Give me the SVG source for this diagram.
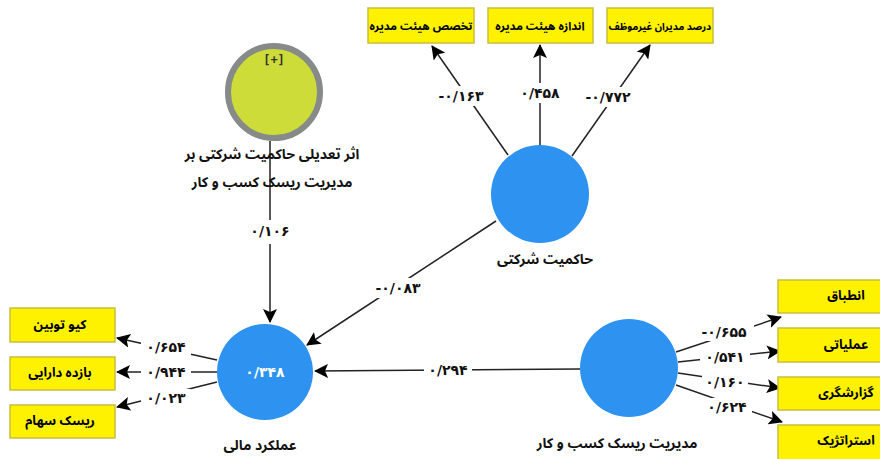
<svg xmlns="http://www.w3.org/2000/svg" width="880" height="459" viewBox="0 0 880 459">
<style>
.box{fill:#FFF200;stroke:#C9BE3A;stroke-width:1.5}
.bt{font-family:"Noto Sans Arabic","Noto Naskh Arabic","DejaVu Sans",sans-serif;font-weight:bold;font-size:13px;fill:#000;text-anchor:middle;dominant-baseline:central}
.tb{font-size:11.5px}
.nl{font-family:"Noto Sans Arabic","Noto Naskh Arabic","DejaVu Sans",sans-serif;font-weight:bold;font-size:14px;fill:#111;text-anchor:middle;dominant-baseline:central}
.num{font-family:"DejaVu Sans",sans-serif;font-weight:bold;font-size:14px;fill:#111;text-anchor:middle;dominant-baseline:central}
.lat{fill:#2E93F0}
.ln{stroke:#222;stroke-width:1.5;fill:none}
.bg{fill:#fff}
</style>
<defs>
<marker id="ah" markerUnits="userSpaceOnUse" markerWidth="14" markerHeight="14" viewBox="0 0 14 14" refX="13" refY="7" orient="auto">
<path d="M0,0 L14,7 L0,14 L3,7 Z" fill="#000"/>
</marker>
</defs>

<g id="connectors">
<line class="ln" x1="508" y1="155" x2="432" y2="46" marker-end="url(#ah)"/>
<line class="ln" x1="540" y1="145" x2="540" y2="45" marker-end="url(#ah)"/>
<line class="ln" x1="572" y1="156" x2="650" y2="45" marker-end="url(#ah)"/>
<line class="ln" x1="270" y1="141" x2="270" y2="322" marker-end="url(#ah)"/>
<line class="ln" x1="496" y1="221" x2="307" y2="345" marker-end="url(#ah)"/>
<line class="ln" x1="580" y1="369" x2="315" y2="371" marker-end="url(#ah)"/>
<line class="ln" x1="217" y1="360" x2="117" y2="338" marker-end="url(#ah)"/>
<line class="ln" x1="217" y1="372" x2="117" y2="372" marker-end="url(#ah)"/>
<line class="ln" x1="217" y1="382" x2="117" y2="407" marker-end="url(#ah)"/>
<line class="ln" x1="676" y1="352" x2="781" y2="317" marker-end="url(#ah)"/>
<line class="ln" x1="678" y1="362" x2="780" y2="351" marker-end="url(#ah)"/>
<line class="ln" x1="678" y1="373" x2="780" y2="388" marker-end="url(#ah)"/>
<line class="ln" x1="676" y1="385" x2="782" y2="422" marker-end="url(#ah)"/>

<rect class="bg" x="434" y="86" width="56" height="20"/>
<text class="num" x="461" y="96">-۰/۱۶۳</text>
<rect class="bg" x="516" y="83" width="48" height="20"/>
<text class="num" x="540" y="93">۰/۴۵۸</text>
<rect class="bg" x="579" y="87" width="58" height="20"/>
<text class="num" x="608" y="97">-۰/۷۷۲</text>

<rect class="bg" x="246" y="220" width="48" height="24"/>
<text class="num" x="270" y="231">۰/۱۰۶</text>

<rect class="bg" x="370" y="278" width="56" height="20"/>
<text class="num" x="398" y="288">-۰/۰۸۳</text>

<rect class="bg" x="424" y="360" width="48" height="20"/>
<text class="num" x="448" y="370">۰/۲۹۴</text>

<rect class="bg" x="141" y="338" width="50" height="18"/>
<text class="num" x="166" y="347">۰/۶۵۴</text>
<rect class="bg" x="141" y="363" width="50" height="18"/>
<text class="num" x="166" y="372">۰/۹۴۴</text>
<rect class="bg" x="141" y="389" width="50" height="18"/>
<text class="num" x="166" y="398">۰/۰۲۳</text>

<rect class="bg" x="694" y="323" width="60" height="18"/>
<text class="num" x="724" y="332">-۰/۶۵۵</text>
<rect class="bg" x="700" y="348" width="50" height="18"/>
<text class="num" x="725" y="357">۰/۵۴۱</text>
<rect class="bg" x="702" y="373" width="46" height="18"/>
<text class="num" x="725" y="382">۰/۱۶۰</text>
<rect class="bg" x="702" y="398" width="50" height="18"/>
<text class="num" x="727" y="407">۰/۶۲۴</text>
</g>

<g id="node-board-expertise">
<rect class="box" x="368" y="8" width="106" height="35"/>
<text class="bt tb" x="421" y="26">تخصص هیئت مدیره</text>
</g>
<g id="node-board-size">
<rect class="box" x="488" y="8" width="105" height="35"/>
<text class="bt tb" x="540" y="26">اندازه هیئت مدیره</text>
</g>
<g id="node-nonexec">
<rect class="box" x="607" y="8" width="106" height="35"/>
<text class="bt" x="660" y="26" style="font-size:10px">درصد مدیران غیرموظف</text>
</g>

<g id="node-moderator">
<circle cx="274" cy="92" r="46" fill="#CEDC3A" stroke="#868A88" stroke-width="6"/>
<text x="274" y="60" style="font-family:'DejaVu Sans Mono',monospace;font-size:12px;font-weight:bold;fill:#333;text-anchor:middle;dominant-baseline:central">[+]</text>
<text class="nl" x="272" y="154">اثر تعدیلی حاکمیت شرکتی بر</text>
<text class="nl" x="272" y="182">مدیریت ریسک کسب و کار</text>
</g>

<g id="node-governance">
<circle class="lat" cx="540" cy="194" r="49"/>
<text class="nl" x="545" y="259">حاکمیت شرکتی</text>
</g>

<g id="node-financial">
<circle class="lat" cx="265" cy="372" r="48"/>
<text x="265" y="372" style="font-family:'DejaVu Sans',sans-serif;font-weight:bold;font-size:14px;fill:#fff;text-anchor:middle;dominant-baseline:central">۰/۳۴۸</text>
<text class="nl" x="260" y="445">عملکرد مالی</text>
</g>

<g id="node-risk">
<circle class="lat" cx="629" cy="368" r="49"/>
<text class="nl" x="617" y="443">مدیریت ریسک کسب و کار</text>
</g>

<g id="node-tobinq">
<rect class="box" x="10" y="308" width="105" height="34"/>
<text class="bt" x="60" y="325">کیو توبین</text>
</g>
<g id="node-roa">
<rect class="box" x="10" y="357" width="105" height="33"/>
<text class="bt" x="60" y="373">بازده دارایی</text>
</g>
<g id="node-stockrisk">
<rect class="box" x="10" y="405" width="105" height="33"/>
<text class="bt" x="60" y="421">ریسک سهام</text>
</g>

<g id="node-compliance">
<rect class="box" x="778" y="280" width="110" height="33"/>
<text class="bt" x="846" y="296">انطباق</text>
</g>
<g id="node-operational">
<rect class="box" x="778" y="328" width="110" height="34"/>
<text class="bt" x="846" y="345">عملیاتی</text>
</g>
<g id="node-reporting">
<rect class="box" x="778" y="377" width="110" height="33"/>
<text class="bt" x="846" y="393">گزارشگری</text>
</g>
<g id="node-strategic">
<rect class="box" x="778" y="425" width="110" height="40"/>
<text class="bt" x="846" y="441">استراتژیک</text>
</g>
</svg>
